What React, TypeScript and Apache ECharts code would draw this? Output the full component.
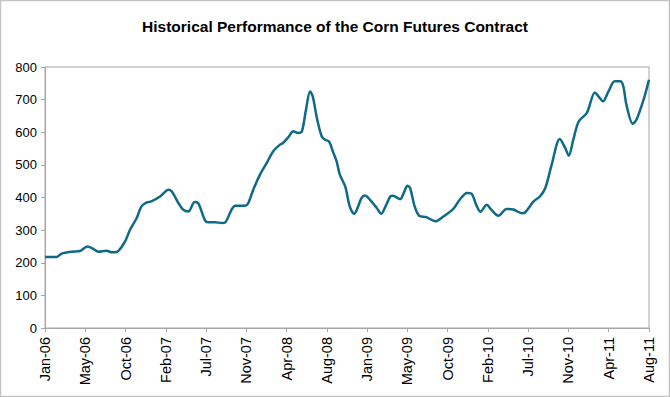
import React, { useEffect, useRef } from "react";
import * as echarts from "echarts";

const TITLE = "Historical Performance of the Corn Futures Contract";

const xTickLabels = [
  "Jan-06", "May-06", "Oct-06", "Feb-07", "Jul-07", "Nov-07", "Apr-08", "Aug-08",
  "Jan-09", "May-09", "Oct-09", "Feb-10", "Jul-10", "Nov-10", "Apr-11", "Aug-11",
];

// months elapsed since Jan-06 (axis spans 67 months over 15 tick intervals)
const totalMonths = 67;

const months = [
  0, 1.3, 1.85, 2.96, 3.88, 4.7, 5.2, 5.9, 6.84, 7.4,
  7.95, 8.87, 9.43, 10.17, 10.7, 11.3, 11.8, 12.76, 13.7, 14.05,
  14.8, 15.3, 15.9, 16.6, 17.0, 17.75, 18.1, 18.86, 19.6, 20,
  20.7, 21.1, 22.2, 22.55, 23.1, 23.85, 24.6, 25.3, 26.07, 26.4,
  27, 27.54, 28.1, 28.5, 28.95, 29.4, 29.7, 30.2, 30.7, 31.07,
  31.5, 32, 32.35, 32.7, 33.3, 33.8, 34.3, 34.6, 35.1, 35.5,
  36.05, 36.8, 37.3, 37.7, 38.3, 38.6, 39.4, 39.8, 40.2, 40.5,
  41, 41.5, 42.3, 43.3, 44.2, 45.3, 46.0, 46.8, 47.3, 47.9,
  48.3, 49, 49.5, 50.3, 51.2, 51.95, 52.9, 53.25, 54.2, 54.9,
  55.5, 56.2, 57.1, 57.7, 58.1, 58.6, 59.2, 60.1, 61, 61.4,
  61.9, 62.5, 63.2, 63.8, 64.15, 64.5, 65.2, 65.6, 66.4, 67,
];

const prices = [
  218, 218, 228, 234, 236, 250, 245, 234, 237, 232,
  233, 265, 301, 337, 373, 385, 388, 403, 424, 419,
  383, 363, 357, 386, 383, 330, 324, 324, 322, 324,
  363, 375, 375, 383, 424, 470, 506, 541, 562, 567,
  585, 603, 598, 603, 669, 725, 710, 638, 587, 577,
  572, 536, 511, 470, 434, 373, 350, 363, 398, 406,
  393, 368, 350, 368, 403, 405, 395, 414, 436, 429,
  373, 344, 340, 327, 342, 365, 393, 414, 412, 373,
  356, 378, 363, 344, 365, 363, 352, 354, 388, 403,
  429, 500, 579, 552, 528, 577, 633, 659, 722, 710,
  695, 725, 756, 756, 741, 684, 626, 638, 700, 761,
];

const yMin = 0;
const yMax = 800;
const yStep = 100;

export default function App() {
  const ref = useRef<HTMLDivElement>(null);

  useEffect(() => {
    document.body.style.margin = "0";
    if (!ref.current) return;
    const chart = echarts.init(ref.current, null, { renderer: "svg" });
    const ticks = xTickLabels.length - 1;
    const seriesData = months.map((m, i) => [(m * ticks) / totalMonths, prices[i]]);
    const axisColor = "#a6a6a6";
    const font = "Arial, 'Liberation Sans', sans-serif";

    chart.setOption({
      animation: false,
      backgroundColor: "#ffffff",
      title: {
        text: TITLE,
        left: "center",
        top: 13,
        textStyle: { fontFamily: font, fontSize: 15.5, fontWeight: "bold", color: "#000" },
      },
      graphic: [
        {
          type: "rect",
          shape: { x: 0.5, y: 0.5, width: 669, height: 396 },
          style: { fill: "none", stroke: "#c4c4c4", lineWidth: 1.5 },
          silent: true,
        },
      ],
      grid: {
        left: 45,
        right: 21,
        top: 67,
        bottom: 69,
        show: true,
        borderColor: axisColor,
        borderWidth: 1,
      },
      xAxis: {
        type: "value",
        min: 0,
        max: ticks,
        interval: 1,
        splitLine: { show: false },
        axisLine: { show: true, lineStyle: { color: axisColor, width: 1 } },
        axisTick: { show: true, length: 4, lineStyle: { color: axisColor } },
        axisLabel: {
          rotate: 90,
          margin: 9,
          fontFamily: font,
          fontSize: 14.5,
          color: "#000",
          formatter: (v: number) => xTickLabels[Math.round(v)] ?? "",
        },
      },
      yAxis: {
        type: "value",
        min: yMin,
        max: yMax,
        interval: yStep,
        splitLine: { show: false },
        axisLine: { show: true, lineStyle: { color: axisColor, width: 1 } },
        axisTick: { show: true, length: 4, lineStyle: { color: axisColor } },
        axisLabel: { fontFamily: font, fontSize: 13, color: "#000", margin: 8 },
      },
      series: [
        {
          type: "line",
          data: seriesData,
          smooth: 0.3,
          showSymbol: false,
          lineStyle: { color: "#0e6a87", width: 2.5 },
        },
      ],
    });
    return () => chart.dispose();
  }, []);

  return <div ref={ref} style={{ width: 670, height: 397 }} />;
}
